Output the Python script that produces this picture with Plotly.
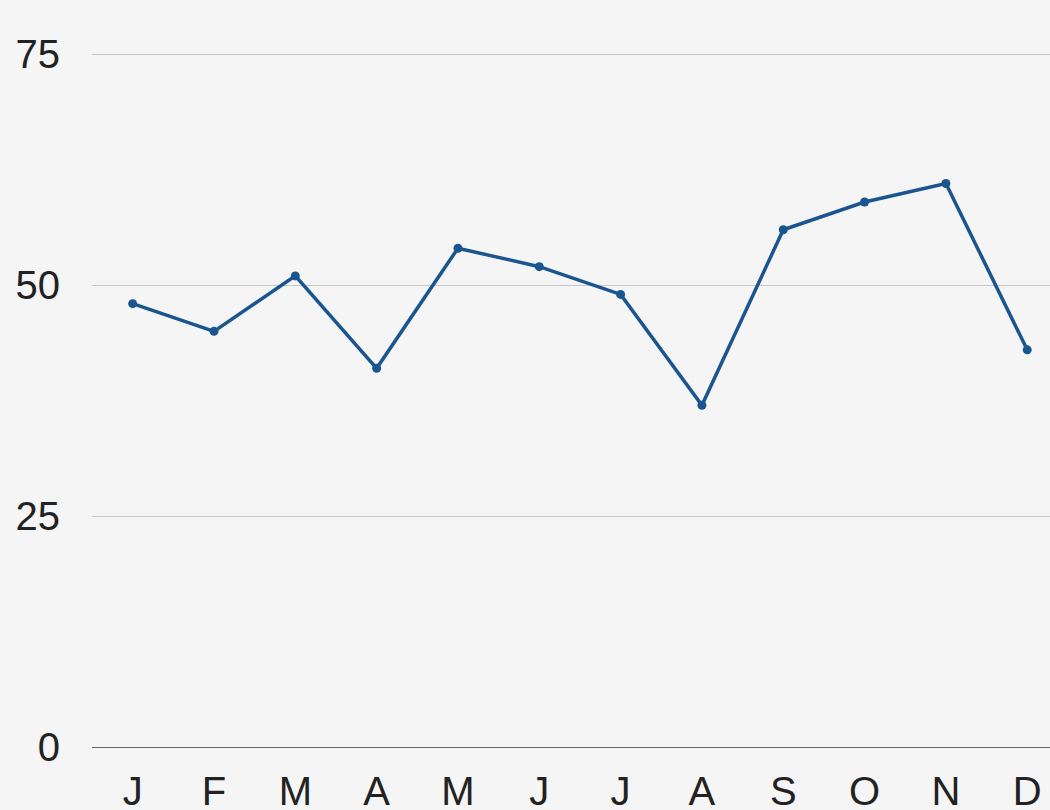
import plotly.graph_objects as go

months = ["J", "F", "M", "A", "M", "J", "J", "A", "S", "O", "N", "D"]
values = [48, 45, 51, 41, 54, 52, 49, 37, 56, 59, 61, 43]
y_ticks = [0, 25, 50, 75]

x_idx = list(range(len(months)))

fig = go.Figure(
    go.Scatter(
        x=x_idx,
        y=values,
        mode="lines+markers",
        line=dict(color="#1a5590", width=3.5),
        marker=dict(color="#1a5590", size=9),
        cliponaxis=False,
    )
)

fig.update_layout(
    width=1050,
    height=810,
    paper_bgcolor="#f5f5f5",
    plot_bgcolor="#f5f5f5",
    margin=dict(l=92, r=0, t=45, b=63),
    showlegend=False,
    font=dict(family="Liberation Sans, Arial, sans-serif", size=40, color="#222222"),
)

fig.update_xaxes(
    tickmode="array",
    tickvals=x_idx,
    ticktext=months,
    range=[-0.5, 11.28],
    showgrid=False,
    zeroline=False,
    showline=False,
    ticks="",
    ticklabelstandoff=17,
    tickfont=dict(size=40),
    automargin=False,
)

fig.update_yaxes(
    range=[0, 76],
    tickvals=y_ticks,
    showgrid=True,
    gridcolor="#c8c8c8",
    gridwidth=1,
    zeroline=True,
    zerolinecolor="#666666",
    zerolinewidth=1,
    ticks="",
    ticklabelstandoff=31,
    tickfont=dict(size=40),
    automargin=False,
)

fig.write_html(
    "out.html",
    config={"displayModeBar": False},
    post_script="document.body.style.margin='0';document.body.style.overflow='hidden';document.body.style.background='#f5f5f5';",
)
